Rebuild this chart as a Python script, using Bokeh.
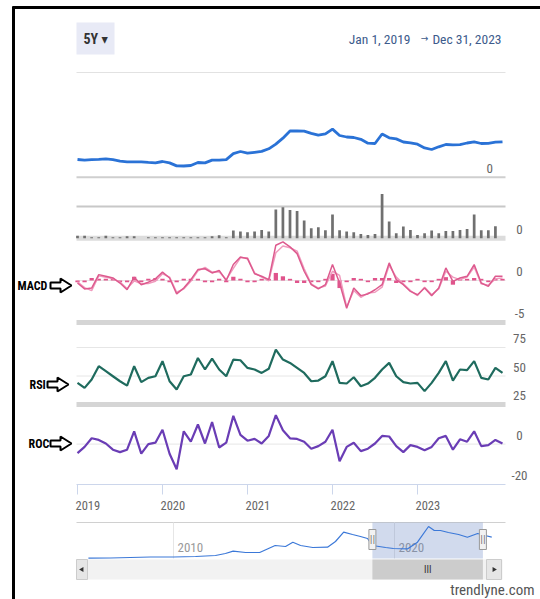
from bokeh.plotting import figure
from bokeh.models import Range1d
from bokeh.core.properties import value
from bokeh.embed import file_html
from bokeh.resources import INLINE

W, H = 540, 599
FONT = "'Roboto Condensed', 'DejaVu Sans Condensed', 'Liberation Sans', sans-serif"

# ---------------- data (monthly, Jan 2019 .. Jan 2024) ----------------
months = [2019 + i / 12 for i in range(61)]
price = [177, 170, 176, 179, 183, 175, 161, 154, 154, 153,
         148, 144, 157, 143, 113, 112, 117, 147, 143, 171,
         170, 176, 235, 257, 240, 249, 258, 284, 331, 390,
         462, 464, 461, 438, 421, 433, 481, 417, 402, 397,
         379, 340, 337, 432, 394, 383, 352, 344, 330, 293,
         277, 304, 327, 324, 326, 342, 353, 337, 339, 350, 354]
vol_months = months[:60]
volume = [0.25, 0.25, 0.1, 0.1, 0.25, 0.1, 0.1, 0.2, 0.2, 0.0,
          0.1, 0.1, 0.1, 0.1, 0.1, 0.1, 0.1, 0.1, 0.1, 0.2,
          0.3, 0.1, 0.77, 0.67, 0.60, 0.67, 0.83, 0.67, 2.87, 3.10,
          2.83, 2.73, 1.77, 1.00, 1.10, 0.80, 2.37, 0.80, 0.67, 0.60,
          0.43, 0.33, 0.43, 4.43, 1.67, 0.50, 1.17, 0.83, 0.33, 0.50,
          0.77, 0.50, 0.73, 0.73, 0.83, 0.93, 2.37, 0.80, 0.80, 1.20]
macd = [-0.3, -1.0, -0.9, 0.7, 0.5, 0.3, -0.3, -1.1, 0.4, -0.5,
        -0.2, 0.2, 1.0, 0.3, -1.6, -0.9, 0.1, 1.3, 1.4, 0.9,
        1.2, 0.0, 1.9, 2.8, 2.6, 0.8, 0.5, 0.1, 4.2, 4.6,
        4.0, 3.2, 1.1, -0.5, -1.0, -0.5, 1.9, -0.3, -3.3, -0.9,
        -1.8, -1.6, -1.1, -0.5, 2.1, 0.1, -0.5, -1.3, -1.7, -0.9,
        -1.8, -0.9, 1.5, -0.1, 0.3, 0.5, 1.9, -0.3, -0.7, 0.5, 0.5]
signal = [-0.15, -0.85, -1.2, 0.55, 0.4, 0.2, -0.2, -0.95, -0.05, -0.4,
          -0.35, -0.1, 0.8, 0.4, -1.4, -1.0, -0.1, 1.15, 1.55, 1.0,
          1.05, 0.1, 1.45, 2.7, 2.7, 0.9, 0.4, -0.05, 3.3, 4.1,
          3.9, 3.5, 1.4, -0.4, -0.9, -0.65, 1.1, 0.6, -3.15, -1.2,
          -2.0, -1.5, -1.4, -0.8, 1.8, 0.4, -0.4, -1.2, -1.8, -0.8,
          -1.7, -1.0, 1.1, 0.4, 0.1, 0.4, 1.6, -0.4, -0.55, 0.2, 0.3]
hist = [-0.2, -0.2, 0.3, 0.2, 0.2, 0.2, -0.2, -0.2, 0.45, -0.2,
        0.2, 0.3, 0.2, -0.2, -0.2, 0.2, 0.2, 0.2, -0.2, -0.2,
        0.2, -0.2, 0.45, 0.2, -0.2, -0.2, 0.2, 0.2, 0.9, 0.5,
        0.2, -0.3, -0.3, -0.2, -0.2, 0.2, 0.8, -0.9, -0.2, 0.3,
        0.2, -0.2, 0.3, 0.3, 0.3, -0.3, -0.2, -0.2, 0.2, -0.2,
        -0.2, 0.2, 0.4, -0.5, 0.2, 0.2, 0.3, 0.2, -0.2, 0.3, 0.2]
rsi = [44.0, 39.6, 46.9, 58.6, 54.2, 49.8, 45.4, 41.5, 58.6, 44.6,
       48.4, 49.8, 63.0, 45.4, 38.1, 49.8, 51.3, 65.8, 55.7, 65.3,
       55.7, 49.8, 64.4, 63.8, 57.1, 55.7, 52.7, 56.3, 73.2, 64.4,
       61.5, 57.1, 52.7, 45.4, 46.0, 49.8, 63.0, 44.0, 43.4, 48.9,
       41.0, 43.4, 48.4, 55.7, 61.5, 49.8, 44.6, 43.4, 44.0, 36.7,
       44.0, 52.7, 63.0, 46.0, 55.7, 55.1, 63.0, 48.4, 46.9, 57.1, 52.7]
roc = [-4.5, -1.4, 2.9, 2.1, 0.3, -2.8, -4.0, -2.8, 6.4, -4.8,
       0.0, 0.7, 7.2, -4.8, -12.6, 6.4, 1.2, 9.8, 0.3, 11.0,
       -1.7, 0.7, 14.1, 4.6, 1.7, 2.6, 0.3, 4.1, 14.5, 6.9,
       2.9, 2.6, 1.2, -2.3, -1.0, 1.2, 7.2, -8.6, -1.4, 0.7,
       -3.5, -2.3, 0.3, 4.1, 3.8, -1.0, -4.0, -0.5, -1.4, -3.1,
       -1.4, 2.9, 4.1, -2.8, 2.4, 1.2, 6.4, -1.0, -0.5, 2.1, 0.3]
years = [2019, 2020, 2021, 2022, 2023]
year_labels = ["2019", "2020", "2021", "2022", "2023"]

nav_year = [2006.15, 2007.15, 2008.05, 2008.96, 2010.0, 2011.0, 2011.9, 2012.35,
            2012.7, 2013.26, 2013.9, 2014.3, 2014.6, 2015.07, 2015.4, 2015.75,
            2016.3, 2016.97, 2017.33, 2017.7, 2018.1, 2018.46, 2018.78, 2019.0,
            2019.6, 2019.95, 2020.6, 2021.04, 2021.54, 2021.8, 2022.08, 2022.44,
            2022.9, 2023.3, 2023.76, 2024.1, 2024.4]
nav_price = [20, 24, 34, 44, 44, 54, 74, 114, 160, 134, 134, 214, 274, 254, 340, 274,
             234, 240, 354, 540, 494, 454, 414, 274, 234, 214, 208, 340, 654, 574,
             574, 534, 494, 440, 514, 474, 440]
nav_ticks = [2010, 2020]
nav_tick_labels = ["2010", "2020"]
sel_start, sel_end = 2019.0, 2024.0

# ---------------- figure ----------------
p = figure(width=W, height=H, x_range=Range1d(0, W), y_range=Range1d(H, 0),
           output_backend="svg", toolbar_location=None, min_border=0,
           x_axis_location=None, y_axis_location=None)
p.grid.visible = False
p.outline_line_color = None
p.background_fill_color = "white"


def xr(va, pa, vb, pb):
    s = (vb - va) / (pb - pa)
    return Range1d(start=va + s * (0 - pa), end=va + s * (W - pa))


def yr(va, pa, vb, pb):
    s = (vb - va) / (pb - pa)
    return Range1d(start=va + s * (H - pa), end=va + s * (0 - pa))


p.extra_x_ranges = {"t": xr(2019, 77, 2024, 502), "nav": xr(2010, 173, 2020, 394)}
p.extra_y_ranges = {
    "price": yr(0, 176.7, 500, 126.7),
    "vol": yr(0, 237.7, 1, 227.7),
    "macd": yr(0, 280, -5, 322),
    "rsi": yr(75, 347, 25, 404),
    "roc": yr(0, 443.6, -20, 483.6),
    "navp": yr(20, 557.7, 654, 526),
}

X0, X1 = 76, 505

# frame of the screenshot
p.segment(x0=[12, 13], y0=[7, 6], x1=[540, 13], y1=[7, 599], line_color="black", line_width=3)

# header
p.quad(left=[76], right=[114], top=[22], bottom=[54], fill_color="#e8eaf6", line_color=None)
p.text(x=[83], y=[38], text=["5Y ▾"], text_font=value(FONT), text_font_size="14px",
       text_font_style="bold", text_color="#333333", text_baseline="middle")
p.text(x=[410], y=[38], text=["Jan 1, 2019"], text_font=value(FONT), text_font_size="13.5px",
       text_color="#3d5b8c", text_align="right", text_baseline="middle")
p.text(x=[424], y=[38], text=["→"], text_font=value(FONT), text_font_size="10px",
       text_color="#3d5b8c", text_align="center", text_baseline="middle")
p.text(x=[501], y=[38], text=["Dec 31, 2023"], text_font=value(FONT), text_font_size="13.5px",
       text_color="#3d5b8c", text_align="right", text_baseline="middle")
p.segment(x0=[X0], x1=[X1], y0=[72], y1=[72], line_color="#e2e2e2", line_width=1)

# price panel
p.segment(x0=[X0], x1=[X1], y0=[0], y1=[0], y_range_name="price", line_color="#cfcfcf", line_width=2)
p.line(months, price, x_range_name="t", y_range_name="price", line_color="#2a72d6", line_width=2.8)

# volume panel
p.segment(x0=[X0], x1=[X1], y0=[206], y1=[206], line_color="#c8c8c8", line_width=2)
p.segment(x0=[X0], x1=[X1], y0=[0], y1=[0], y_range_name="vol", line_color="#dcdcdc", line_width=5)
p.vbar(x=vol_months, top=volume, bottom=0, width=0.032, x_range_name="t", y_range_name="vol",
       fill_color="#707070", line_color=None)

# MACD panel
p.segment(x0=[X0], x1=[X1], y0=[0], y1=[0], y_range_name="macd", line_color="#e6e6e6", line_width=1)
p.segment(x0=[X0], x1=[X1], y0=[-5], y1=[-5], y_range_name="macd", line_color="#d5d5d5", line_width=5)
p.vbar(x=months, top=hist, bottom=0, width=0.05, x_range_name="t", y_range_name="macd",
       fill_color="#e0548c", line_color=None)
p.line(months, signal, x_range_name="t", y_range_name="macd", line_color="#f09abd", line_width=1.5)
p.line(months, macd, x_range_name="t", y_range_name="macd", line_color="#dd5a8e", line_width=1.5)

# RSI panel
p.segment(x0=[X0, X0], x1=[X1, X1], y0=[75, 50], y1=[75, 50], y_range_name="rsi",
          line_color="#e6e6e6", line_width=1)
p.segment(x0=[X0], x1=[X1], y0=[25], y1=[25], y_range_name="rsi", line_color="#d5d5d5", line_width=5)
p.line(months, rsi, x_range_name="t", y_range_name="rsi", line_color="#1f6b5e", line_width=2.2)

# ROC panel
p.segment(x0=[X0], x1=[X1], y0=[0], y1=[0], y_range_name="roc", line_color="#e6e6e6", line_width=1)
p.line(months, roc, x_range_name="t", y_range_name="roc", line_color="#6a3db5", line_width=2.2)

# right-hand axis labels
lab = dict(text_font=value(FONT), text_font_size="13px", text_color="#666666",
           text_align="center", text_baseline="middle", y_offset=-9)
p.text(x=[2023.85], y=[0], text=["0"], x_range_name="t", y_range_name="price", **lab)
p.text(x=[2024.2], y=[0], text=["0"], x_range_name="t", y_range_name="vol", **lab)
p.text(x=[2024.2, 2024.2], y=[0, -5], text=["0", "-5"], x_range_name="t", y_range_name="macd", **lab)
p.text(x=[2024.2] * 3, y=[75, 50, 25], text=["75", "50", "25"], x_range_name="t", y_range_name="rsi", **lab)
p.text(x=[2024.2, 2024.2], y=[0, -20], text=["0", "-20"], x_range_name="t", y_range_name="roc", **lab)

# left indicator labels with outline arrows
for name, x_txt, y_c, x_arr in [("MACD", 17, 285, 50), ("RSI", 29, 384, 47), ("ROC", 28, 443, 50)]:
    p.text(x=[x_txt], y=[y_c], text=[name], text_font=value(FONT), text_font_size="12px",
           text_font_style="bold", text_color="black", text_baseline="middle")
    xs = [x_arr, x_arr + 10, x_arr + 10, x_arr + 21, x_arr + 10, x_arr + 10, x_arr]
    ys = [y_c - 3, y_c - 3, y_c - 7, y_c, y_c + 7, y_c + 3, y_c + 3]
    p.patch(xs, ys, fill_color="white", line_color="black", line_width=2)

# x axis
p.segment(x0=[X0], x1=[X1], y0=[484], y1=[484], line_color="#ccd6eb", line_width=1)
p.segment(x0=years, x1=years, y0=[484] * 5, y1=[494] * 5, x_range_name="t",
          line_color="#ccd6eb", line_width=1)
p.text(x=years, y=[505] * 5, text=year_labels, x_range_name="t", text_font=value(FONT),
       text_font_size="12.5px", text_color="#666666", text_baseline="middle", x_offset=-2)

# navigator
p.segment(x0=[X0], x1=[X1], y0=[522], y1=[522], line_color="#d0d0d0", line_width=1)
p.segment(x0=nav_ticks, x1=nav_ticks, y0=[522, 522], y1=[558, 558], x_range_name="nav",
          line_color="#e6e6e6", line_width=1)
p.text(x=nav_ticks, y=[547, 547], text=nav_tick_labels, x_range_name="nav", text_font=value(FONT),
       text_font_size="13px", text_color="#999999", text_baseline="middle", x_offset=4)
p.quad(left=[sel_start], right=[sel_end], top=[522], bottom=[558], x_range_name="nav",
       fill_color="#6685c2", fill_alpha=0.3, line_color=None)
p.line(nav_year, nav_price, x_range_name="nav", y_range_name="navp", line_color="#3b78d8", line_width=1.2)
p.rect(x=[sel_start, sel_end], y=[539, 539], width=7, height=20, width_units="screen",
       height_units="screen", x_range_name="nav", fill_color="#f2f2f2", line_color="#999999")
p.text(x=[sel_start, sel_end], y=[539, 539], text=["||", "||"], x_range_name="nav",
       text_font=value("DejaVu Sans"), text_font_size="8px", text_color="#666666",
       text_align="center", text_baseline="middle")

# scrollbar
p.quad(left=[X0], right=[502], top=[559], bottom=[579], fill_color="#f2f2f2", line_color=None)
p.quad(left=[sel_start], right=[sel_end], top=[559], bottom=[579], x_range_name="nav",
       fill_color="#cccccc", line_color=None)
p.text(x=[(sel_start + sel_end) / 2], y=[569], text=["III"], x_range_name="nav",
       text_font=value(FONT), text_font_size="10px", text_color="#333333",
       text_align="center", text_baseline="middle")
p.quad(left=[X0, 486], right=[87, 501], top=[559, 559], bottom=[579, 579],
       fill_color="#e6e6e6", line_color="#cccccc")
p.scatter(x=[81.5, 493.5], y=[569, 569], marker="triangle", size=5, angle=[1.5708, -1.5708],
          fill_color="#333333", line_color=None)

p.text(x=[534], y=[589], text=["trendlyne.com"], text_font=value(FONT), text_font_size="15px",
       text_color="#555555", text_align="right", text_baseline="middle")

open("out.html", "w").write(file_html(p, INLINE))
